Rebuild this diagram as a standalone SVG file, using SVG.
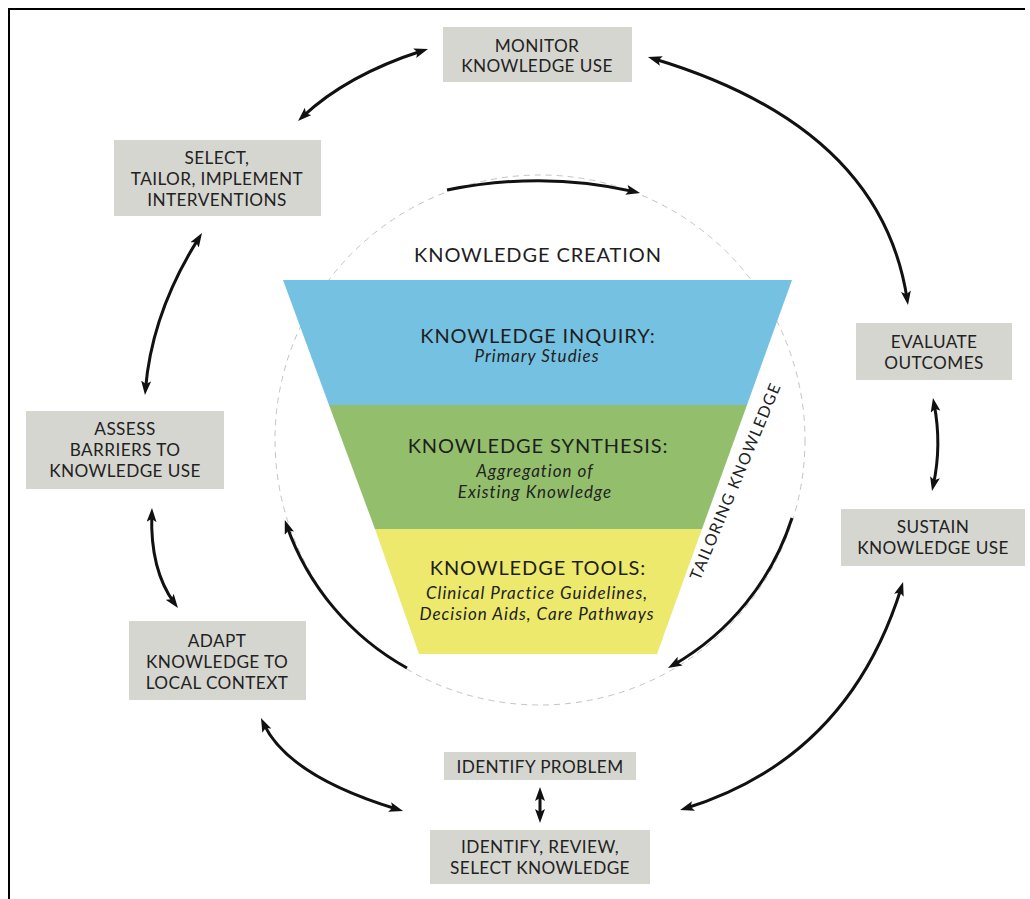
<svg xmlns="http://www.w3.org/2000/svg" width="1030" height="899" viewBox="0 0 1030 899">
<style>
.box{fill:#d6d6d0}
.bt{font-family:Lato,"Open Sans","Liberation Sans",sans-serif;font-size:17.2px;letter-spacing:0.4px;fill:#222;text-anchor:middle}
.h{font-family:Lato,"Open Sans","Liberation Sans",sans-serif;font-size:20px;letter-spacing:0.9px;fill:#1e1e1e;text-anchor:middle}
.it{font-family:Lato,"Open Sans","Liberation Sans",sans-serif;font-size:17px;letter-spacing:1px;font-style:italic;fill:#222;text-anchor:middle}
.tk{font-family:Lato,"Open Sans","Liberation Sans",sans-serif;font-size:16px;letter-spacing:1.2px;fill:#222;text-anchor:middle}
.arr{fill:none;stroke:#111;stroke-width:3}
.dbl{marker-start:url(#ah);marker-end:url(#ah)}
.one{marker-end:url(#ah)}
</style>
<defs>
<marker id="ah" viewBox="0 0 14 10" refX="8" refY="5" markerWidth="14" markerHeight="10" markerUnits="userSpaceOnUse" orient="auto-start-reverse">
<path d="M0,0 L14,5 L0,10 L3,5 z" fill="#111"/>
</marker>
</defs>
<rect width="1030" height="899" fill="#fff"/>
<path d="M8,9 H1025 M9,8 V899" stroke="#000" stroke-width="2" fill="none"/>

<g id="dashed-circle">
<circle cx="540" cy="440" r="265" fill="none" stroke="#c4c4c4" stroke-width="1" stroke-dasharray="6 5"/>
</g>

<g id="funnel">
<polygon points="283,280 792,280 747,405 329,405" fill="#75c1e1"/>
<polygon points="329,405 747,405 702,529 375,529" fill="#93bf6d"/>
<polygon points="375,529 702,529 657,654 419,654" fill="#ede96c"/>
<text class="h" x="538" y="262">KNOWLEDGE CREATION</text>
<text class="h" x="538" y="343">KNOWLEDGE INQUIRY:</text>
<text class="it" x="537" y="362">Primary Studies</text>
<text class="h" x="538" y="453">KNOWLEDGE SYNTHESIS:</text>
<text class="it" x="535" y="477">Aggregation of</text>
<text class="it" x="535" y="498">Existing Knowledge</text>
<text class="h" x="538" y="575">KNOWLEDGE TOOLS:</text>
<text class="it" x="537" y="599">Clinical Practice Guidelines,</text>
<text class="it" x="537" y="620">Decision Aids, Care Pathways</text>
<text class="tk" x="0" y="0" transform="translate(735,481) rotate(-67.4)" dy="6">TAILORING KNOWLEDGE</text>
</g>

<g id="monitor"><rect class="box" x="443" y="27" width="189" height="55"/><text class="bt" x="537" y="52">MONITOR</text><text class="bt" x="537" y="72">KNOWLEDGE USE</text></g>
<g id="select"><rect class="box" x="114" y="140" width="207" height="76"/><text class="bt" x="217" y="164">SELECT,</text><text class="bt" x="217" y="185">TAILOR, IMPLEMENT</text><text class="bt" x="217" y="206">INTERVENTIONS</text></g>
<g id="assess"><rect class="box" x="26" y="411" width="198" height="78"/><text class="bt" x="125" y="435">ASSESS</text><text class="bt" x="125" y="456">BARRIERS TO</text><text class="bt" x="125" y="477">KNOWLEDGE USE</text></g>
<g id="adapt"><rect class="box" x="129" y="621" width="177" height="79"/><text class="bt" x="217" y="647">ADAPT</text><text class="bt" x="217" y="668">KNOWLEDGE TO</text><text class="bt" x="217" y="689">LOCAL CONTEXT</text></g>
<g id="evaluate"><rect class="box" x="856" y="323" width="156" height="57"/><text class="bt" x="934" y="348">EVALUATE</text><text class="bt" x="934" y="369">OUTCOMES</text></g>
<g id="sustain"><rect class="box" x="841" y="509" width="184" height="57"/><text class="bt" x="933" y="533">SUSTAIN</text><text class="bt" x="933" y="554">KNOWLEDGE USE</text></g>
<g id="identify-problem"><rect class="box" x="444" y="752" width="192" height="28"/><text class="bt" x="540" y="773">IDENTIFY PROBLEM</text></g>
<g id="identify-review"><rect class="box" x="430" y="830" width="220" height="54"/><text class="bt" x="540" y="853">IDENTIFY, REVIEW,</text><text class="bt" x="540" y="874">SELECT KNOWLEDGE</text></g>

<g id="connectors">
<path class="arr dbl" d="M302.4,116.9 Q347,75 422.3,50.8"/>
<path class="arr dbl" d="M653.7,58.7 Q881,127 907.1,299.1"/>
<path class="arr dbl" d="M198.8,238.1 Q152,312 145.5,389"/>
<path class="arr dbl" d="M151.8,514 Q150,570 174.4,603.2"/>
<path class="arr dbl" d="M263.5,723.4 Q288,776 397.3,809.3"/>
<path class="arr dbl" d="M685.8,808.3 Q848,758 901.3,587.7"/>
<path class="arr dbl" d="M934.1,403.9 Q942,445 933.3,485.1"/>
<path class="arr dbl" d="M540,793 L540,817"/>
<path class="arr one" d="M447,190 Q543.5,170.5 634.2,191.6"/>
<path class="arr one" d="M407,668 A262,262 0 0 1 286.8,525.7"/>
<path class="arr one" d="M792,518 A262,262 0 0 1 673.2,665.1"/>
</g>
</svg>
